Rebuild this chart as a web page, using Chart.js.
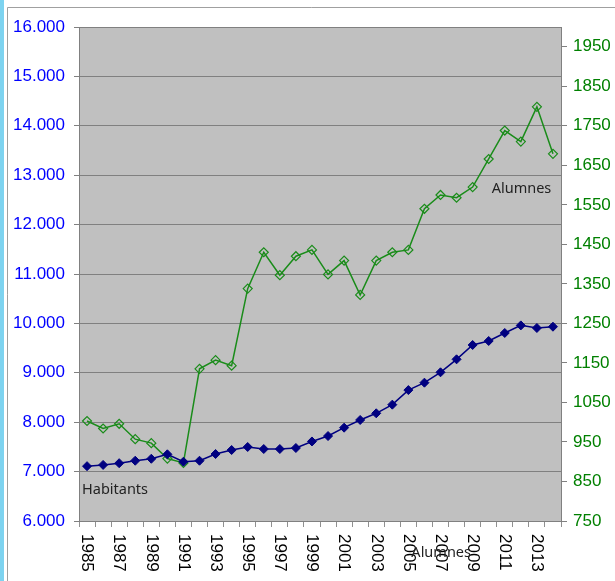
<!DOCTYPE html>
<html>
<head>
<meta charset="utf-8">
<script src="https://cdn.jsdelivr.net/npm/chart.js@4/dist/chart.umd.min.js"></script>
<style>
html,body{margin:0;padding:0;background:#fff;}
#wrap{width:615px;height:581px;position:relative;}
</style>
</head>
<body>
<div id="wrap"><canvas id="c" width="615" height="581"></canvas></div>
<script>
const years = [1985,1986,1987,1988,1989,1990,1991,1992,1993,1994,1995,1996,1997,1998,1999,2000,2001,2002,2003,2004,2005,2006,2007,2008,2009,2010,2011,2012,2013,2014];
const habitants = [7110,7135,7170,7220,7260,7350,7200,7220,7356,7437,7498,7457,7457,7478,7610,7720,7889,8045,8180,8355,8650,8800,9010,9273,9563,9644,9806,9960,9907,9933];
const alumnes = [1003,984,996,957,947,908,897,1135,1157,1143,1338,1430,1372,1420,1436,1374,1409,1322,1409,1430,1436,1540,1575,1568,1595,1666,1738,1710,1798,1679];
const leftTicks = [6000,7000,8000,9000,10000,11000,12000,13000,14000,15000,16000];
const rightTicks = [750,850,950,1050,1150,1250,1350,1450,1550,1650,1750,1850,1950];
const xLabelYears = [1985,1987,1989,1991,1993,1995,1997,1999,2001,2003,2005,2007,2009,2011,2013];

const FONT = "'Liberation Sans', Arial, sans-serif";
function fmtDot(v){ return String(v).replace(/\B(?=(\d{3})+(?!\d))/g, '.'); }

const framePlugin = {
  id: 'frame',
  beforeDraw(chart){
    const ctx = chart.ctx, a = chart.chartArea;
    ctx.save();
    ctx.fillStyle = '#ffffff';
    ctx.fillRect(0,0,chart.width,chart.height);
    ctx.fillStyle = '#7dd3f0';
    ctx.fillRect(0,0,4,chart.height);
    ctx.strokeStyle = '#a0a0a0';
    ctx.lineWidth = 1;
    ctx.beginPath();
    ctx.moveTo(7.5,chart.height); ctx.lineTo(7.5,7.5); ctx.lineTo(chart.width,7.5);
    ctx.stroke();
    ctx.fillStyle = '#c0c0c0';
    ctx.fillRect(a.left,a.top,a.right-a.left,a.bottom-a.top);
    ctx.restore();
  },
  afterDraw(chart){
    const ctx = chart.ctx, a = chart.chartArea;
    const xs = chart.scales.x, yl = chart.scales.y, yr = chart.scales.y1;
    ctx.save();
    ctx.fillStyle = '#000000';
    ctx.font = '17px ' + FONT;
    ctx.textAlign = 'left';
    ctx.textBaseline = 'middle';
    xLabelYears.forEach(y => {
      const px = xs.getPixelForValue(years.indexOf(y));
      ctx.save();
      ctx.translate(px, a.bottom + 13);
      ctx.rotate(Math.PI/2);
      ctx.fillText(String(y), 0, 0);
      ctx.restore();
    });
    ctx.fillStyle = '#222222';
    ctx.font = '14.5px "Noto Sans", sans-serif';
    ctx.textBaseline = 'middle';
    ctx.textAlign = 'left';
    ctx.fillText('Habitants', a.left + 3, yl.getPixelForValue(6620));
    ctx.fillText('Alumnes', xs.getPixelForValue(25) + 3, yr.getPixelForValue(1590));
    ctx.fillText('Alumnes', xs.getPixelForValue(20) + 3, a.bottom + 32);
    ctx.restore();
  }
};

new Chart(document.getElementById('c'), {
  type: 'line',
  data: {
    labels: years.map(String),
    datasets: [
      {
        label: 'Habitants',
        data: habitants,
        yAxisID: 'y',
        borderColor: '#000080',
        backgroundColor: '#000080',
        borderWidth: 1.5,
        pointStyle: 'rectRot',
        pointRadius: 4.5,
        pointBorderWidth: 1,
        pointBackgroundColor: '#000080',
        pointBorderColor: '#000080',
        tension: 0
      },
      {
        label: 'Alumnes',
        data: alumnes,
        yAxisID: 'y1',
        borderColor: '#1a8c1a',
        backgroundColor: '#1a8c1a',
        borderWidth: 1.5,
        pointStyle: 'rectRot',
        pointRadius: 4.5,
        pointBorderWidth: 1.2,
        pointBackgroundColor: 'rgba(0,0,0,0)',
        pointBorderColor: '#1a8c1a',
        tension: 0
      }
    ]
  },
  options: {
    responsive: false,
    animation: false,
    layout: { padding: { top: 27, left: 0, right: 0, bottom: 0 } },
    plugins: { legend: { display: false }, tooltip: { enabled: false } },
    scales: {
      x: {
        type: 'category',
        offset: true,
        grid: { offset: true, drawOnChartArea: false, drawTicks: true, tickLength: 6, color: '#909090' },
        border: { color: '#808080', width: 1 },
        ticks: { autoSkip: false, maxRotation: 0, minRotation: 0, callback: () => '', font: { size: 1 } },
        afterFit(scale){ scale.height = 60; }
      },
      y: {
        position: 'left',
        min: 6000, max: 16000,
        afterBuildTicks(scale){ scale.ticks = leftTicks.map(v => ({ value: v })); },
        grid: { color: '#808080', lineWidth: 1, tickLength: 5, drawTicks: true },
        border: { color: '#808080', width: 1 },
        ticks: { color: '#0000ff', padding: 9, font: { family: FONT, size: 17 }, callback: v => fmtDot(v) },
        afterFit(scale){ scale.width = 79; }
      },
      y1: {
        position: 'right',
        min: 750, max: 2000,
        afterBuildTicks(scale){ scale.ticks = rightTicks.map(v => ({ value: v })); },
        grid: { drawOnChartArea: false, color: '#808080', tickLength: 6, drawTicks: true },
        border: { color: '#808080', width: 1 },
        ticks: { color: '#008000', padding: 6, font: { family: FONT, size: 17 }, callback: v => String(v) },
        afterFit(scale){ scale.width = 54; }
      }
    }
  },
  plugins: [framePlugin]
});
</script>
</body>
</html>
